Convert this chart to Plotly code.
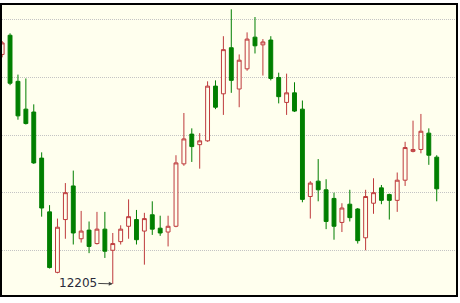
import plotly.graph_objects as go

# Candle index (trading periods)
periods = list(range(56))

opens = [12444, 12464, 12416, 12387, 12384, 12336, 12280, 12217, 12272, 12307,
         12252, 12261, 12247, 12262, 12240, 12249, 12265, 12272, 12260, 12277,
         12263, 12259, 12265, 12330, 12361, 12350, 12354, 12411, 12403, 12451,
         12408, 12429, 12462, 12454, 12459, 12420, 12394, 12404, 12387, 12296,
         12312, 12303, 12294, 12269, 12288, 12283, 12253, 12289, 12305, 12298,
         12292, 12313, 12343, 12345, 12362, 12337]
highs = [12458, 12466, 12423, 12419, 12392, 12342, 12287, 12273, 12310, 12323,
         12281, 12270, 12280, 12280, 12258, 12266, 12293, 12282, 12279, 12291,
         12276, 12276, 12339, 12383, 12367, 12362, 12416, 12417, 12463, 12491,
         12444, 12467, 12483, 12460, 12463, 12425, 12424, 12415, 12396, 12312,
         12335, 12314, 12300, 12289, 12303, 12284, 12303, 12315, 12308, 12299,
         12321, 12353, 12375, 12382, 12367, 12339]
lows = [12441, 12412, 12376, 12371, 12330, 12275, 12221, 12216, 12252, 12246,
        12248, 12237, 12246, 12232, 12205, 12246, 12252, 12246, 12225, 12256,
        12255, 12244, 12264, 12328, 12332, 12325, 12353, 12387, 12381, 12404,
        12389, 12427, 12445, 12422, 12417, 12393, 12381, 12384, 12290, 12273,
        12291, 12262, 12251, 12259, 12270, 12247, 12240, 12278, 12288, 12272,
        12280, 12307, 12342, 12341, 12329, 12291]
closes = [12456, 12414, 12380, 12372, 12331, 12284, 12222, 12264, 12300, 12258,
          12260, 12244, 12262, 12239, 12247, 12262, 12275, 12251, 12273, 12262,
          12258, 12265, 12331, 12356, 12348, 12354, 12411, 12389, 12449, 12417,
          12438, 12460, 12453, 12457, 12419, 12400, 12404, 12385, 12293, 12310,
          12303, 12270, 12265, 12284, 12274, 12250, 12296, 12300, 12292, 12292,
          12313, 12347, 12345, 12364, 12339, 12304]

grid_values = [12240, 12300, 12360, 12420, 12480]
low_label = "12205"
low_index = 14
low_value = 12205

RED = "#BE3A3C"
GREEN = "#007F00"
BG = "#FFFFEE"

fig = go.Figure(go.Candlestick(
    x=periods, open=opens, high=highs, low=lows, close=closes,
    increasing=dict(line=dict(color=RED, width=1), fillcolor=BG),
    decreasing=dict(line=dict(color=GREEN, width=1), fillcolor=GREEN),
    hoverinfo="skip",
))

fig.add_annotation(
    x=low_index, y=low_value, xref="x", yref="y",
    text=low_label, showarrow=True, arrowhead=2, arrowsize=0.8, arrowwidth=1,
    arrowcolor="#444444", ax=-35, ay=-1, standoff=0,
    font=dict(family="DejaVu Sans", size=12, color="#2A2A3A"),
)

fig.update_layout(
    width=460, height=303,
    margin=dict(l=2, r=4, t=5, b=8),
    paper_bgcolor="white", plot_bgcolor=BG,
    showlegend=False,
    font=dict(family="DejaVu Sans"),
    xaxis=dict(range=[-0.02, 57.44], showgrid=False, zeroline=False,
               showticklabels=False, ticks="", rangeslider=dict(visible=False),
               showline=True, linecolor="black", linewidth=2, mirror=True),
    yaxis=dict(range=[12193.4, 12495.5], tickvals=grid_values, showgrid=True,
               gridcolor="#C4C4C4", griddash="1px,1px", gridwidth=1,
               zeroline=False, showticklabels=False, ticks="",
               showline=True, linecolor="black", linewidth=2, mirror=True),
)

fig.write_html("out.html")
